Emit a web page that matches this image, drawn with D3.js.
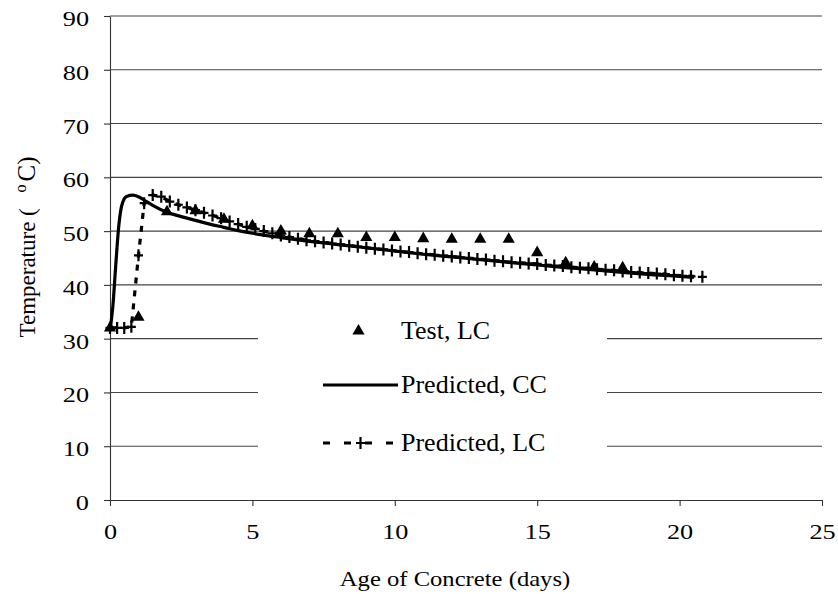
<!DOCTYPE html>
<html>
<head>
<meta charset="utf-8">
<script src="https://cdn.jsdelivr.net/npm/d3@7"></script>
<style>
  html, body { margin: 0; padding: 0; background: #fff; }
  svg { display: block; }
  text { font-family: "Liberation Serif", "Times New Roman", serif; fill: #000; }
</style>
</head>
<body>
<svg id="chart" width="838" height="594"></svg>
<script>
// Measured concrete temperatures, LC (day, degC)
const testDays  = [0, 1, 2, 3, 4, 5, 6, 7, 8, 9, 10, 11, 12, 13, 14, 15, 16, 17, 18];
const testTemps = [32, 34, 53.6, 53.8, 52.2, 51, 50, 49.5, 49.5, 48.8, 48.8, 48.6, 48.5, 48.5, 48.5, 46, 44.1, 43.3, 43.2];

// Predicted temperatures, CC
const ccDays  = [0, 0.1, 0.2, 0.3, 0.4, 0.5, 0.6, 0.8, 1.0, 1.25, 1.5, 2, 2.5, 3, 3.5, 4, 4.5, 5, 6, 7, 8, 9, 10, 11, 12, 13, 14, 15, 16, 17, 18, 19, 20, 20.5];
const ccTemps = [31.5, 36, 43.5, 50.5, 54.5, 56, 56.5, 56.7, 56.4, 55.6, 54.8, 53.5, 52.7, 52, 51.3, 50.7, 50.1, 49.6, 48.8, 48.1, 47.5, 46.9, 46.3, 45.7, 45.2, 44.7, 44.2, 43.7, 43.2, 42.8, 42.3, 41.9, 41.6, 41.4];

// Predicted temperatures, LC
const lcDays  = [0, 0.25, 0.5, 0.75, 1, 1.2, 1.5, 1.8, 2.1, 2.4, 2.7, 3, 3.3, 3.6, 3.9, 4.2, 4.5, 4.8, 5.1, 5.4, 5.7, 6, 6.3, 6.6, 6.9, 7.2, 7.5, 7.8, 8.1, 8.4, 8.7, 9, 9.3, 9.6, 9.9, 10.2, 10.5, 10.8, 11.1, 11.4, 11.7, 12, 12.3, 12.6, 12.9, 13.2, 13.5, 13.8, 14.1, 14.4, 14.7, 15, 15.3, 15.6, 15.9, 16.2, 16.5, 16.8, 17.1, 17.4, 17.7, 18, 18.3, 18.6, 18.9, 19.2, 19.5, 19.8, 20.1, 20.4, 20.8];
const lcTemps = [32, 32, 32, 32.2, 45.5, 55.2, 56.7, 56.4, 55.5, 54.9, 54.4, 53.9, 53.4, 52.9, 52.4, 51.8, 51.3, 50.8, 50.4, 50, 49.6, 49.2, 48.9, 48.6, 48.3, 48.1, 47.9, 47.7, 47.5, 47.3, 47.1, 46.9, 46.7, 46.6, 46.4, 46.2, 46.1, 45.9, 45.7, 45.6, 45.4, 45.3, 45.1, 45, 44.8, 44.7, 44.5, 44.4, 44.2, 44.1, 44, 43.9, 43.7, 43.6, 43.5, 43.3, 43.2, 43.1, 42.9, 42.8, 42.7, 42.5, 42.4, 42.3, 42.2, 42.1, 42, 41.8, 41.7, 41.6, 41.5];

const xTicks = [0, 5, 10, 15, 20, 25];
const yTicks = [0, 10, 20, 30, 40, 50, 60, 70, 80, 90];
const legendLabels = ["Test, LC", "Predicted, CC", "Predicted, LC"];
const xTitle = "Age of Concrete (days)";

const svg = d3.select("#chart");
const x = d3.scaleLinear().domain([0, 25]).range([110, 822]);
const y = d3.scaleLinear().domain([0, 90]).range([500, 16]);

const TICK_FONT = 21, TICK_STRETCH = 1.25;

// horizontal gridlines
svg.append("g").selectAll("line")
  .data(yTicks.filter(d => d > 0))
  .join("line")
  .attr("x1", x(0)).attr("x2", x(25))
  .attr("y1", d => y(d)).attr("y2", d => y(d))
  .attr("stroke", "#444").attr("stroke-width", 1.1);

// legend background hides the gridlines behind it
svg.append("rect")
  .attr("x", 258).attr("y", 312).attr("width", 349).attr("height", 160)
  .attr("fill", "#fff");

// axes
const yAxis = d3.axisLeft(y).tickValues(yTicks).tickSize(6).tickSizeOuter(0).tickPadding(10.8);
const xAxis = d3.axisBottom(x).tickValues(xTicks).tickSize(6).tickSizeOuter(0).tickPadding(8);

const gy = svg.append("g").attr("transform", `translate(${x(0)},0)`).call(yAxis);
const gx = svg.append("g").attr("transform", `translate(0,${y(0)})`).call(xAxis);

[gx, gy].forEach(g => {
  g.select(".domain").attr("stroke", "#333").attr("stroke-width", 1.1);
  g.selectAll(".tick line").attr("stroke", "#333").attr("stroke-width", 1.1);
  g.selectAll(".tick text")
    .attr("font-family", "Liberation Serif, Times New Roman, serif")
    .attr("font-size", TICK_FONT)
    .attr("fill", "#000")
    .attr("transform", `scale(${TICK_STRETCH},1)`);
});
gy.selectAll(".tick text").attr("dy", "0.45em");
gx.selectAll(".tick text").attr("dy", "1.2em");

// axis titles
svg.append("text")
  .attr("transform", `translate(455,586) scale(1.12,1)`)
  .attr("text-anchor", "middle")
  .attr("font-size", 22)
  .text(xTitle);

const yt = svg.append("text")
  .attr("transform", "translate(35,247) rotate(-90)")
  .attr("text-anchor", "middle")
  .attr("font-size", 23);
yt.append("tspan").text("Temperature ( ");
yt.append("tspan").attr("dx", 10).attr("dy", -9).attr("font-size", 16).text("o");
yt.append("tspan").attr("dx", 3).attr("dy", 9).attr("font-size", 25).text("C)");

// series
const cc = ccDays.map((d, i) => [d, ccTemps[i]]);
const lc = lcDays.map((d, i) => [d, lcTemps[i]]);
const test = testDays.map((d, i) => [d, testTemps[i]]);

svg.append("path")
  .attr("fill", "none").attr("stroke", "#000").attr("stroke-width", 3.2)
  .attr("stroke-linejoin", "round")
  .attr("d", d3.line().x(d => x(d[0])).y(d => y(d[1])).curve(d3.curveMonotoneX)(cc));

svg.append("path")
  .attr("fill", "none").attr("stroke", "#000").attr("stroke-width", 3.2)
  .attr("stroke-dasharray", "6,7")
  .attr("d", d3.line().x(d => x(d[0])).y(d => y(d[1]))(lc));

const plusPath = "M-4.5,0H4.5M0,-6V6";
svg.append("g").selectAll("path")
  .data(lc)
  .join("path")
  .attr("transform", d => `translate(${x(d[0])},${y(d[1])})`)
  .attr("d", plusPath)
  .attr("stroke", "#000").attr("stroke-width", 2.2).attr("fill", "none");

const tri = d3.symbol().type(d3.symbolTriangle).size(64);
svg.append("g").selectAll("path")
  .data(test)
  .join("path")
  .attr("transform", d => `translate(${x(d[0])},${y(d[1])})`)
  .attr("d", tri())
  .attr("fill", "#000");

// legend
const legX0 = 323, legX1 = 398, legMid = (legX0 + legX1) / 2;
const legRows = [331, 385, 443];
const lg = svg.append("g");

lg.append("path")
  .attr("transform", `translate(${legMid - 2},${legRows[0]})`)
  .attr("d", tri()).attr("fill", "#000");

lg.append("line")
  .attr("x1", legX0).attr("x2", legX1).attr("y1", legRows[1]).attr("y2", legRows[1])
  .attr("stroke", "#000").attr("stroke-width", 3.2);

lg.append("line")
  .attr("x1", legX0).attr("x2", legX1).attr("y1", legRows[2]).attr("y2", legRows[2])
  .attr("stroke", "#000").attr("stroke-width", 3.2).attr("stroke-dasharray", "7,14");
lg.append("path")
  .attr("transform", `translate(${legMid},${legRows[2]})`)
  .attr("d", plusPath).attr("stroke", "#000").attr("stroke-width", 2.2);

lg.selectAll("text")
  .data(legendLabels)
  .join("text")
  .attr("x", 401)
  .attr("y", (d, i) => legRows[i] + 8)
  .attr("font-size", 26)
  .text(d => d);
</script>
</body>
</html>
